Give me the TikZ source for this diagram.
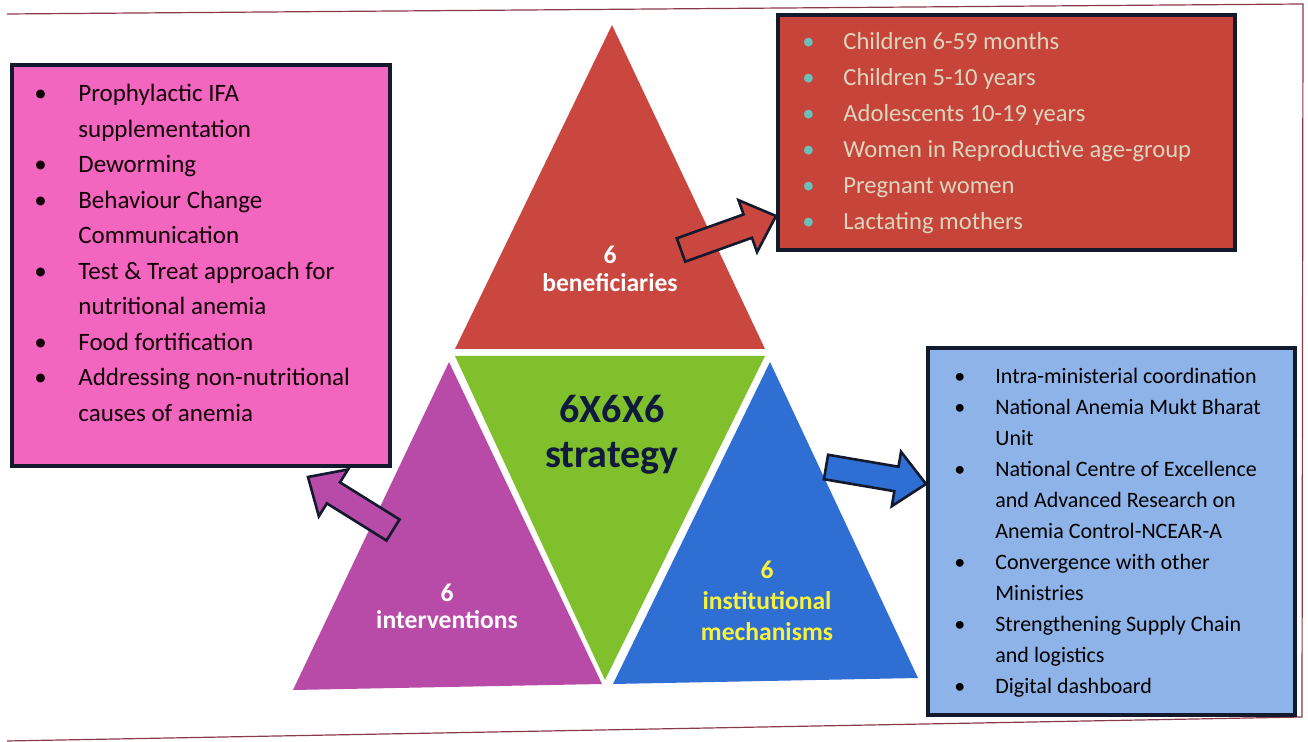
\documentclass[tikz,border=0pt]{standalone}
\usepackage{fontspec}
\setmainfont{Carlito}
\usetikzlibrary{calc}
\definecolor{framec}{HTML}{8B3A4A}
\definecolor{pinkc}{HTML}{F266C0}
\definecolor{redboxc}{HTML}{C6443A}
\definecolor{blueboxc}{HTML}{8DB3E8}
\definecolor{redtri}{HTML}{C9473F}
\definecolor{greentri}{HTML}{7FC02C}
\definecolor{purptri}{HTML}{B84AA8}
\definecolor{bluetri}{HTML}{2F6ED3}
\definecolor{darkline}{HTML}{141A2E}
\definecolor{navytext}{HTML}{101A3C}
\definecolor{paletext}{HTML}{DDD6BC}
\definecolor{tealbul}{HTML}{6CC0BA}
\definecolor{yellowtext}{HTML}{F8F23A}
\newcommand\blockarr[3]{%
  \coordinate (#1h) at ($(#2)!15pt!(#1)$);
  \path[arrowline, fill=#3]
    ($(#1)!6.2pt!90:(#2)$) -- ($(#1h)!6.2pt!90:(#2)$) -- ($(#1h)!13.8pt!90:(#2)$)
    -- (#2) -- ($(#1h)!13.8pt!-90:(#2)$) -- ($(#1h)!6.2pt!-90:(#2)$)
    -- ($(#1)!6.2pt!-90:(#2)$) -- cycle;}
\newcommand\tbul{\leavevmode{\color{tealbul}\textbullet}}
\begin{document}
\begin{tikzpicture}[x=0.5pt,y=-0.5pt,
  listbox/.style={draw=darkline, line width=2pt, inner sep=0pt},
  arrowline/.style={draw=darkline, line width=1.3pt, line join=miter},
  listtext/.style={anchor=base west, inner sep=0pt},
  trilabel/.style={align=center, inner sep=0pt, font=\bfseries\fontsize{12.8}{14}\selectfont}]
\useasboundingbox (0,0) rectangle (1308,742);
\fill[white] (0,0) rectangle (1308,742);
% photo frame
\draw[framec, line width=0.6pt] (7,14) -- (1303,4) -- (1302,717) -- (7,741);

% triangles
\fill[redtri] (612,25) -- (455,349) -- (765,349) -- cycle;
\fill[greentri] (455,356) -- (765,356) -- (605,680) -- cycle;
\fill[purptri] (449,362) -- (293,690) -- (602,684) -- cycle;
\fill[bluetri] (770,362) -- (613,684) -- (918,678) -- cycle;

% boxes
\node[listbox, fill=pinkc, minimum width=189pt, minimum height=200.5pt] (pbox) at (201,265.5) {};
\node[listbox, fill=redboxc, minimum width=228.5pt, minimum height=117.5pt] (rbox) at (1006.5,132.5) {};
\node[listbox, fill=blueboxc, minimum width=183.5pt, minimum height=183.5pt] (bbox) at (1111.5,531.5) {};

% triangle labels
\node[trilabel, text=white] (benef) at (610,269) {6\\beneficiaries};
\node[trilabel, text=white, font=\bfseries\fontsize{12.8}{13.5}\selectfont] (interv) at (447,606) {6\\interventions};
\node[trilabel, text=yellowtext, font=\bfseries\fontsize{12.8}{15.5}\selectfont] (instit) at (767,601) {6\\institutional\\mechanisms};
\node[trilabel, text=navytext, font=\bfseries\fontsize{20}{22.5}\selectfont] (strat) at (612,435) {6X6X6\\strategy};

% list texts
\node[listtext, text=black!90!purple] (ptext) at (34,102) {\fontsize{12.5}{17.75}\selectfont
\begin{tabular}[t]{@{}p{22pt}@{}l@{}}
\textbullet & Prophylactic IFA\\
 & supplementation\\
\textbullet & Deworming\\
\textbullet & Behaviour Change\\
 & Communication\\
\textbullet & Test \& Treat approach for\\
 & nutritional anemia\\
\textbullet & Food fortification\\
\textbullet & Addressing non-nutritional\\
 & causes of anemia
\end{tabular}};

\node[listtext, text=paletext] (rtext) at (802,50) {\fontsize{12.3}{18}\selectfont
\begin{tabular}[t]{@{}p{20.5pt}@{}l@{}}
\tbul & Children 6-59 months\\
\tbul & Children 5-10 years\\
\tbul & Adolescents 10-19 years\\
\tbul & Women in Reproductive age-group\\
\tbul & Pregnant women\\
\tbul & Lactating mothers
\end{tabular}};

\node[listtext, text=black] (btext) at (954,384) {\fontsize{11}{15.5}\selectfont
\begin{tabular}[t]{@{}p{20.5pt}@{}l@{}}
\textbullet & Intra-ministerial coordination\\
\textbullet & National Anemia Mukt Bharat\\
 & Unit\\
\textbullet & National Centre of Excellence\\
 & and Advanced Research on\\
 & Anemia Control-NCEAR-A\\
\textbullet & Convergence with other\\
 & Ministries\\
\textbullet & Strengthening Supply Chain\\
 & and logistics\\
\textbullet & Digital dashboard
\end{tabular}};

% block arrows
\coordinate (ra) at (681,250);
\coordinate (rb) at (rbox.west |- 0,216);
\coordinate (pa) at (393,530);
\coordinate (pb) at (308,477);
\coordinate (ba) at (826,467);
\coordinate (bb) at (bbox.west |- 0,484);
\blockarr{ra}{rb}{redtri}
\blockarr{pa}{pb}{purptri}
\blockarr{ba}{bb}{bluetri}
\end{tikzpicture}
\end{document}
